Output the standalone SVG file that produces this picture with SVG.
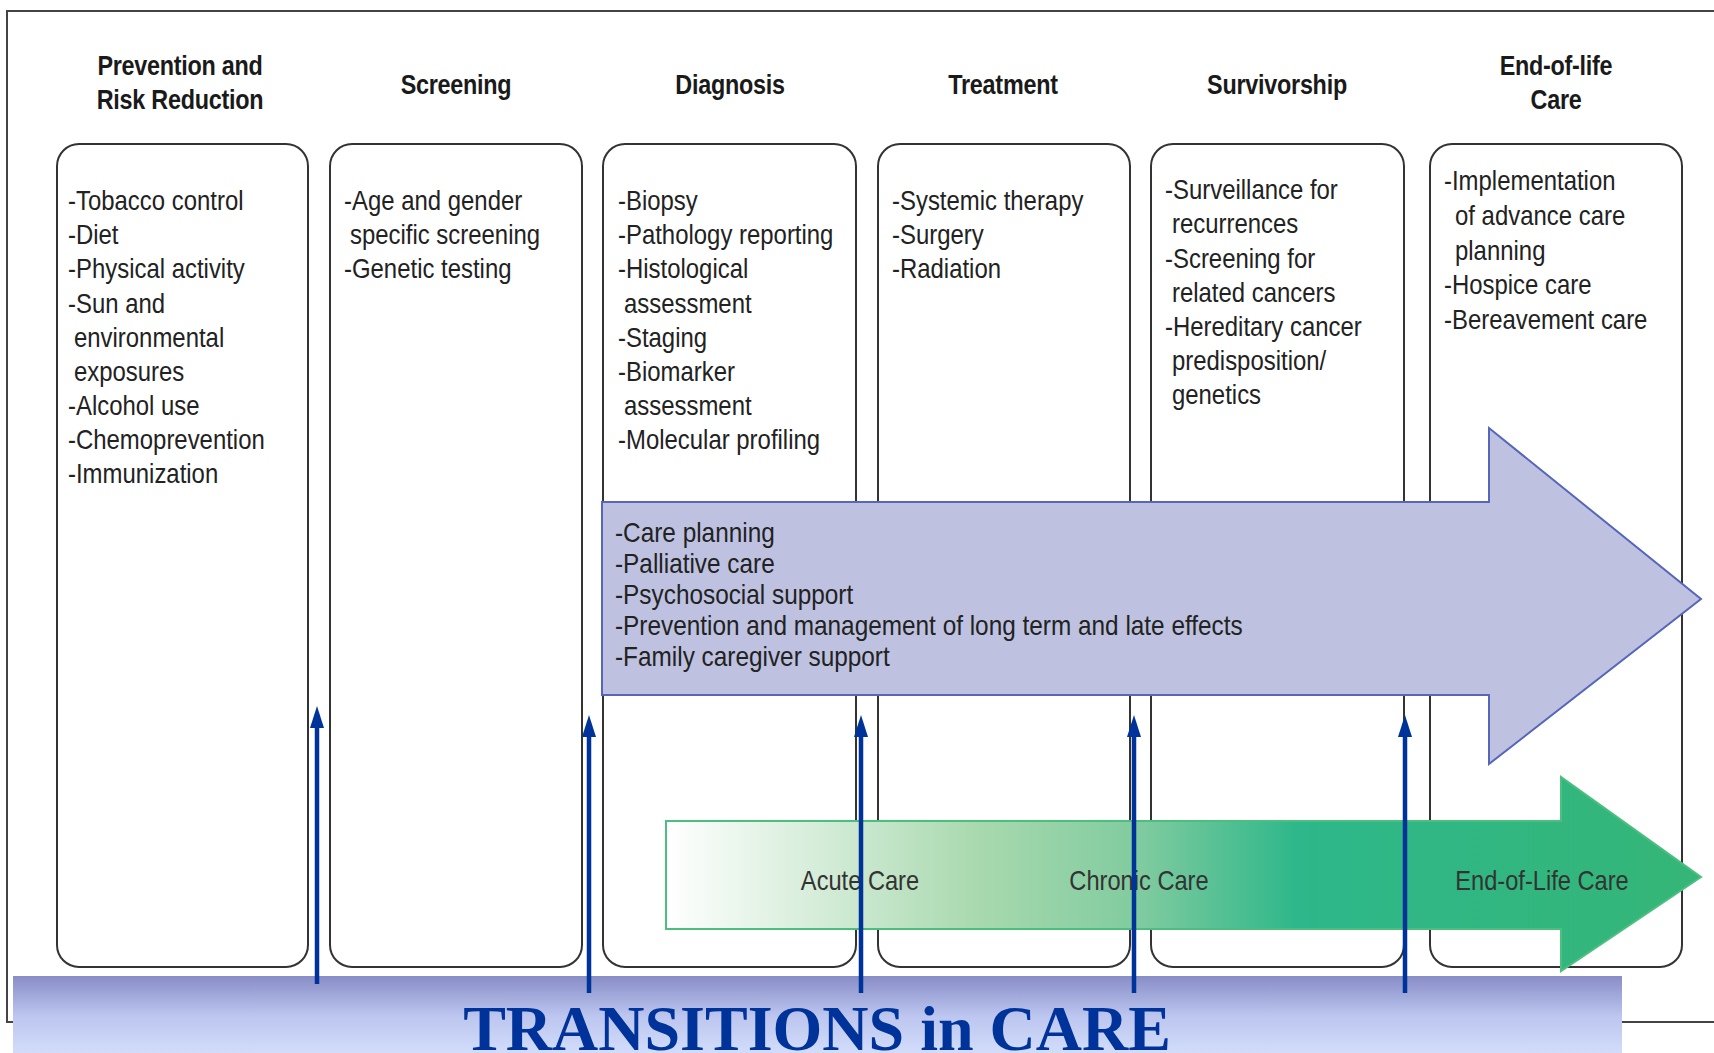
<svg xmlns="http://www.w3.org/2000/svg" width="1714" height="1053" viewBox="0 0 1714 1053">
<style>
.hdr{font-family:"Liberation Sans",Arial,sans-serif;font-weight:bold;font-size:27.5px;fill:#1a1a1a;text-anchor:middle;letter-spacing:-0.3px}
.body{font-family:"Liberation Sans",Arial,sans-serif;font-size:28.5px;fill:#222}
.box{fill:#fff;stroke:#333;stroke-width:2}
.lbl{font-family:"Liberation Sans",Arial,sans-serif;font-size:28.5px;fill:#333;text-anchor:middle}
.conn{stroke:#003399;stroke-width:4.5;fill:none;marker-end:url(#ah)}
</style>
<defs>
<marker id="ah" markerUnits="userSpaceOnUse" viewBox="0 0 22 14" refX="8" refY="7" markerWidth="22" markerHeight="14" orient="auto">
<path d="M0,0 L22,7 L0,14 z" fill="#003399"/>
</marker>
<linearGradient id="gGreen" gradientUnits="userSpaceOnUse" x1="666" y1="0" x2="1701" y2="0">
<stop offset="0" stop-color="#ffffff"/>
<stop offset="0.2" stop-color="#c6e6cb"/>
<stop offset="0.3" stop-color="#a9d9ae"/>
<stop offset="0.46" stop-color="#7fcb9f"/>
<stop offset="0.61" stop-color="#2db78a"/>
<stop offset="1" stop-color="#35b677"/>
</linearGradient>
<linearGradient id="gBand" x1="0" y1="0" x2="0" y2="1">
<stop offset="0" stop-color="#888dc7"/>
<stop offset="0.5" stop-color="#bcc6ef"/>
<stop offset="1" stop-color="#d4defb"/>
</linearGradient>
</defs>
<rect id="frame" x="7" y="11" width="1730" height="1011" fill="#fff" stroke="#444" stroke-width="2"/>

<g id="n-prevention">
<text class="hdr" transform="translate(180 0) scale(0.85 1)"><tspan x="0" y="75">Prevention  and</tspan><tspan x="0" y="109">Risk Reduction</tspan></text>
<rect class="box" x="57" y="144" width="251" height="823" rx="22"/>
<text class="body" transform="translate(68 0) scale(0.84 1)"><tspan x="0" y="210">-Tobacco control</tspan><tspan x="7.1" y="244" dx="-7.1">-Diet</tspan><tspan x="0" y="278">-Physical activity</tspan><tspan x="0" y="313">-Sun and</tspan><tspan x="7.1" y="347">environmental</tspan><tspan x="7.1" y="381">exposures</tspan><tspan x="0" y="415">-Alcohol use</tspan><tspan x="0" y="449">-Chemoprevention</tspan><tspan x="0" y="483">-Immunization</tspan></text>
</g>

<g id="n-screening">
<text class="hdr" transform="translate(456 0) scale(0.85 1)" x="0" y="94">Screening</text>
<rect class="box" x="330" y="144" width="252" height="823" rx="22"/>
<text class="body" transform="translate(344 0) scale(0.84 1)"><tspan x="0" y="210">-Age and gender</tspan><tspan x="7.1" y="244">specific screening</tspan><tspan x="0" y="278">-Genetic testing</tspan></text>
</g>

<g id="n-diagnosis">
<text class="hdr" transform="translate(730 0) scale(0.85 1)" x="0" y="94">Diagnosis</text>
<rect class="box" x="603" y="144" width="253" height="823" rx="22"/>
<text class="body" transform="translate(618 0) scale(0.84 1)"><tspan x="0" y="210">-Biopsy</tspan><tspan x="0" y="244">-Pathology reporting</tspan><tspan x="0" y="278">-Histological</tspan><tspan x="7.1" y="313">assessment</tspan><tspan x="0" y="347">-Staging</tspan><tspan x="0" y="381">-Biomarker</tspan><tspan x="7.1" y="415">assessment</tspan><tspan x="0" y="449">-Molecular profiling</tspan></text>
</g>

<g id="n-treatment">
<text class="hdr" transform="translate(1003 0) scale(0.85 1)" x="0" y="94">Treatment</text>
<rect class="box" x="878" y="144" width="252" height="823" rx="22"/>
<text class="body" transform="translate(892 0) scale(0.84 1)"><tspan x="0" y="210">-Systemic therapy</tspan><tspan x="0" y="244">-Surgery</tspan><tspan x="0" y="278">-Radiation</tspan></text>
</g>

<g id="n-survivorship">
<text class="hdr" transform="translate(1277 0) scale(0.85 1)" x="0" y="94">Survivorship</text>
<rect class="box" x="1151" y="144" width="253" height="823" rx="22"/>
<text class="body" transform="translate(1165 0) scale(0.84 1)"><tspan x="0" y="199">-Surveillance for</tspan><tspan x="8.3" y="233">recurrences</tspan><tspan x="0" y="268">-Screening for</tspan><tspan x="8.3" y="302">related cancers</tspan><tspan x="0" y="336">-Hereditary cancer</tspan><tspan x="8.3" y="370">predisposition/</tspan><tspan x="8.3" y="404">genetics</tspan></text>
</g>

<g id="n-endoflife">
<text class="hdr" transform="translate(1556 0) scale(0.85 1)"><tspan x="0" y="75">End-of-life</tspan><tspan x="0" y="109">Care</tspan></text>
<rect class="box" x="1430" y="144" width="252" height="823" rx="22"/>
<text class="body" transform="translate(1444 0) scale(0.84 1)"><tspan x="0" y="190">-Implementation</tspan><tspan x="13.1" y="225">of advance care</tspan><tspan x="13.1" y="260">planning</tspan><tspan x="0" y="294">-Hospice care</tspan><tspan x="0" y="329">-Bereavement care</tspan></text>
</g>

<g id="n-continuum">
<polygon points="602,502 1489,502 1489,428 1701,599 1489,764 1489,695 602,695" fill="#bec2e0" stroke="#5566bb" stroke-width="2"/>
<text class="body" transform="translate(615 0) scale(0.855 1)"><tspan x="0" y="542">-Care planning</tspan><tspan x="0" y="573">-Palliative care</tspan><tspan x="0" y="604">-Psychosocial support</tspan><tspan x="0" y="635">-Prevention and management of long term and late effects</tspan><tspan x="0" y="666">-Family caregiver support</tspan></text>
</g>

<g id="n-care-types">
<polygon points="666,821 1561,821 1561,777 1701,877 1561,971 1561,929 666,929" fill="url(#gGreen)" stroke="#4cbf80" stroke-width="2"/>
<text class="lbl" transform="translate(860 0) scale(0.83 1)" x="0" y="890">Acute Care</text>
<text class="lbl" transform="translate(1139 0) scale(0.83 1)" x="0" y="890">Chronic Care</text>
<text class="lbl" transform="translate(1542 0) scale(0.83 1)" x="0" y="890">End-of-Life Care</text>
</g>

<g id="n-transitions">
<rect x="13" y="976" width="1609" height="80" fill="url(#gBand)"/>
</g>

<g id="connectors">
<line class="conn" x1="317" y1="984" x2="317" y2="720"/>
<line class="conn" x1="589" y1="993" x2="589" y2="729"/>
<line class="conn" x1="861" y1="993" x2="861" y2="729"/>
<line class="conn" x1="1134" y1="993" x2="1134" y2="729"/>
<line class="conn" x1="1405" y1="993" x2="1405" y2="729"/>
</g>

<text x="817" y="1050" font-family="'Liberation Serif','Times New Roman',serif" font-weight="bold" font-size="64" fill="#003399" text-anchor="middle">TRANSITIONS in CARE</text>
</svg>
